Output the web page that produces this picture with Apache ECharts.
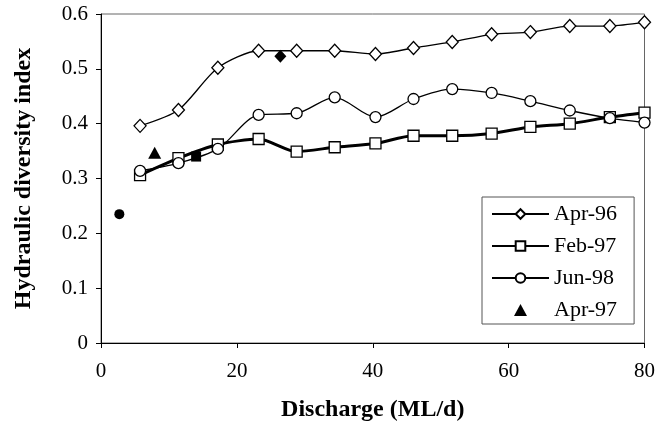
<!DOCTYPE html>
<html><head><meta charset="utf-8">
<script src="https://cdn.jsdelivr.net/npm/echarts@6/dist/echarts.min.js"></script>
<style>html,body{margin:0;padding:0;background:#fff}#c{width:658px;height:427px}</style>
</head><body><div id="c"></div>
<script>
const discharge = [5.75, 11.4, 17.2, 23.2, 28.8, 34.4, 40.4, 46.0, 51.7, 57.5, 63.2, 69.0, 74.9, 80.0];
const apr96 = [0.396, 0.425, 0.502, 0.533, 0.533, 0.533, 0.527, 0.538, 0.549, 0.563, 0.567, 0.578, 0.578, 0.585];
const feb97 = [0.306, 0.337, 0.362, 0.372, 0.349, 0.357, 0.364, 0.378, 0.378, 0.382, 0.394, 0.400, 0.412, 0.420];
const jun98 = [0.314, 0.328, 0.354, 0.416, 0.419, 0.448, 0.412, 0.445, 0.463, 0.456, 0.441, 0.424, 0.410, 0.402];
const apr97 = [[7.9, 0.347]];
const singleCircle = [[2.7, 0.235]];
const singleSquare = [[14.0, 0.340]];
const singleDiamond = [[26.4, 0.523]];
const xTicks = [0, 20, 40, 60, 80];
const yTicks = [0, 0.1, 0.2, 0.3, 0.4, 0.5, 0.6];

const pair = (xs, ys) => xs.map((x, i) => [x, ys[i]]);
const font = 'Liberation Serif';
const solid = { color: '#000', opacity: 1 };
const chart = echarts.init(document.getElementById('c'));
chart.setOption({
  animation: false,
  backgroundColor: '#fff',
  grid: { left: 101, right: 11, top: 14, bottom: 83, show: true, borderColor: '#666', borderWidth: 1, containLabel: false },
  xAxis: {
    type: 'value', min: xTicks[0], max: xTicks[xTicks.length - 1], interval: 20,
    name: 'Discharge (ML/d)', nameLocation: 'middle', nameGap: 55,
    nameTextStyle: { fontFamily: font, fontWeight: 'bold', fontSize: 24, color: '#000' },
    axisLine: { lineStyle: { color: '#000', width: 1 } },
    axisTick: { show: true, inside: false, length: 5, lineStyle: { color: '#000' } },
    axisLabel: { fontFamily: font, fontSize: 21, color: '#000', margin: 18 },
    splitLine: { show: false }
  },
  yAxis: {
    type: 'value', min: yTicks[0], max: yTicks[yTicks.length - 1], interval: 0.1,
    name: 'Hydraulic diversity index', nameLocation: 'middle', nameGap: 65, nameRotate: 90,
    nameTextStyle: { fontFamily: font, fontWeight: 'bold', fontSize: 24, color: '#000' },
    axisLine: { show: true, lineStyle: { color: '#000', width: 1 } },
    axisTick: { show: true, inside: false, length: 5, lineStyle: { color: '#000' } },
    axisLabel: { fontFamily: font, fontSize: 21, color: '#000', margin: 13 },
    splitLine: { show: false }
  },
  legend: {
    data: ['Apr-96', 'Feb-97', 'Jun-98', { name: 'Apr-97', icon: 'path://M0,12 L6.5,0 L13,12 Z' }],
    orient: 'vertical', left: 482, top: 197,
    backgroundColor: '#fff', borderColor: '#555', borderWidth: 1,
    padding: [6, 17, 3, 9], itemWidth: 57, itemHeight: 12, itemGap: 10,
    textStyle: { fontFamily: font, fontSize: 22, color: '#000' }
  },
  series: [
    { name: 'Apr-96', type: 'line', data: pair(discharge, apr96), smooth: 0.25,
      symbol: 'diamond', symbolSize: [12, 13],
      lineStyle: { color: '#000', width: 1.3 },
      itemStyle: { color: '#fff', borderColor: '#000', borderWidth: 1.3 } },
    { name: 'Feb-97', type: 'line', data: pair(discharge, feb97), smooth: 0.25,
      symbol: 'rect', symbolSize: 11,
      lineStyle: { color: '#000', width: 3 },
      itemStyle: { color: '#fff', borderColor: '#000', borderWidth: 1.3 } },
    { name: 'Jun-98', type: 'line', data: pair(discharge, jun98), smooth: 0.3,
      symbol: 'circle', symbolSize: 11,
      lineStyle: { color: '#000', width: 1.3 },
      itemStyle: { color: '#fff', borderColor: '#000', borderWidth: 1.3 } },
    { name: 'Apr-97', type: 'scatter', data: apr97, symbol: 'triangle', symbolSize: [13, 12], itemStyle: solid },
    { name: 'c1', type: 'scatter', data: singleCircle, symbol: 'circle', symbolSize: 10, itemStyle: solid },
    { name: 's1', type: 'scatter', data: singleSquare, symbol: 'rect', symbolSize: 10, itemStyle: solid },
    { name: 'd1', type: 'scatter', data: singleDiamond, symbol: 'diamond', symbolSize: [12, 13], itemStyle: solid }
  ]
});
</script></body></html>
